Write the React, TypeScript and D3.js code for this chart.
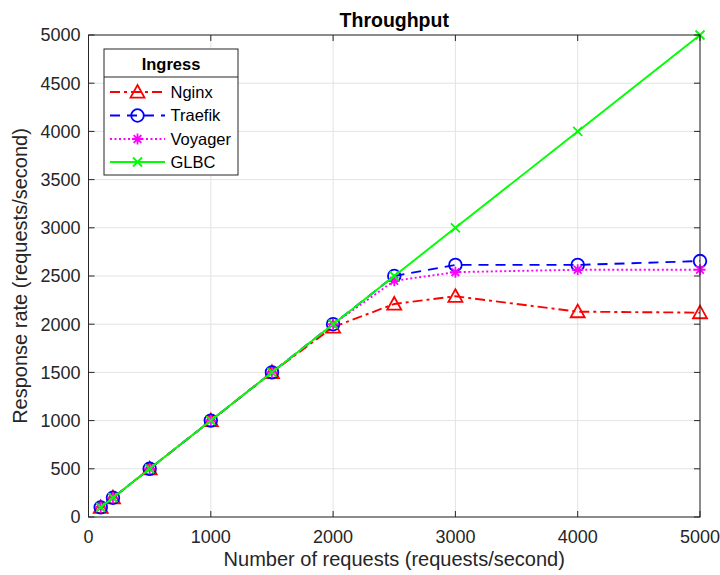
import React from "react";
import * as d3 from "d3";

const xValues = [100, 200, 500, 1000, 1500, 2000, 2500, 3000, 4000, 5000];
const nginx = [100, 200, 500, 1000, 1500, 1970, 2210, 2290, 2130, 2120];
const traefik = [100, 200, 500, 1000, 1500, 2000, 2500, 2615, 2615, 2655];
const voyager = [100, 200, 500, 1000, 1500, 2000, 2450, 2540, 2565, 2565];
const glbc = [100, 200, 500, 1000, 1500, 2000, 2500, 3000, 4000, 5000];
const xTicks = [0, 1000, 2000, 3000, 4000, 5000];
const yTicks = [0, 500, 1000, 1500, 2000, 2500, 3000, 3500, 4000, 4500, 5000];

const seriesNames = ["Nginx", "Traefik", "Voyager", "GLBC"];

const W = 720, H = 575;
const L = 88.5, R = 700, T = 35, B = 517;
const font = "'Liberation Sans', Arial, sans-serif";
const axisColor = "#262626";

type Ser = { name: string; vals: number[]; color: string; dash: string; marker: string };
const series: Ser[] = [
  { name: seriesNames[0], vals: nginx, color: "#ff0000", dash: "10 4 3 4", marker: "tri" },
  { name: seriesNames[1], vals: traefik, color: "#0000ff", dash: "10 7", marker: "circ" },
  { name: seriesNames[2], vals: voyager, color: "#ff00ff", dash: "2 2.5", marker: "star" },
  { name: seriesNames[3], vals: glbc, color: "#00ff00", dash: "", marker: "x" },
];

function Marker({ kind, x, y, color }: { kind: string; x: number; y: number; color: string }) {
  const sw = 1.8;
  if (kind === "tri") {
    const s = 7;
    return <path d={`M${x},${y - s} L${x + s},${y + s * 0.8} L${x - s},${y + s * 0.8} Z`} fill="none" stroke={color} strokeWidth={sw} />;
  }
  if (kind === "circ") return <circle cx={x} cy={y} r={6.3} fill="none" stroke={color} strokeWidth={sw} />;
  if (kind === "star") {
    const s = 5.5;
    const d = s * 0.7;
    return (
      <path d={`M${x - s},${y} L${x + s},${y} M${x},${y - s} L${x},${y + s} M${x - d},${y - d} L${x + d},${y + d} M${x - d},${y + d} L${x + d},${y - d}`} stroke={color} strokeWidth={sw} />
    );
  }
  const s = 4.5;
  return <path d={`M${x - s},${y - s} L${x + s},${y + s} M${x - s},${y + s} L${x + s},${y - s}`} stroke={color} strokeWidth={sw} />;
}

export default function App() {
  const x = d3.scaleLinear().domain([0, 5000]).range([L, R]);
  const y = d3.scaleLinear().domain([0, 5000]).range([B, T]);
  const line = d3.line<number>().x((_, i) => x(xValues[i])).y((v) => y(v));
  const tl = 6;

  const legX = 104, legY = 49, legW = 134, legH = 126;
  const rowY = [92, 115.5, 139, 162];

  return (
    <svg width={W} height={H} style={{ position: "absolute", left: 0, top: 0 }} fontFamily={font}>
      <rect x={0} y={0} width={W} height={H} fill="#fff" />
      <rect x={L} y={T} width={R - L} height={B - T} fill="#fff" />
      {/* grid */}
      {xTicks.map((t) => (
        <line key={"gx" + t} x1={x(t)} x2={x(t)} y1={T} y2={B} stroke="#e3e3e3" strokeWidth={1} />
      ))}
      {yTicks.map((t) => (
        <line key={"gy" + t} x1={L} x2={R} y1={y(t)} y2={y(t)} stroke="#e3e3e3" strokeWidth={1} />
      ))}
      {/* series */}
      {series.map((s) => (
        <g key={s.name}>
          <path d={line(s.vals) || ""} fill="none" stroke={s.color} strokeWidth={1.9} strokeDasharray={s.dash || undefined} />
          {s.vals.map((v, i) => (
            <Marker key={i} kind={s.marker} x={x(xValues[i])} y={y(v)} color={s.color} />
          ))}
        </g>
      ))}
      {/* axes box */}
      <rect x={L} y={T} width={R - L} height={B - T} fill="none" stroke={axisColor} strokeWidth={1} />
      {xTicks.map((t) => (
        <g key={"xt" + t}>
          <line x1={x(t)} x2={x(t)} y1={B} y2={B - tl} stroke={axisColor} />
          <line x1={x(t)} x2={x(t)} y1={T} y2={T + tl} stroke={axisColor} />
          <text x={x(t)} y={543} textAnchor="middle" fontSize={18} fill={axisColor}>{t}</text>
        </g>
      ))}
      {yTicks.map((t) => (
        <g key={"yt" + t}>
          <line x1={L} x2={L + tl} y1={y(t)} y2={y(t)} stroke={axisColor} />
          <line x1={R} x2={R - tl} y1={y(t)} y2={y(t)} stroke={axisColor} />
          <text x={L - 8} y={y(t)} dy="0.35em" textAnchor="end" fontSize={18} fill={axisColor}>{t}</text>
        </g>
      ))}
      <text x={(L + R) / 2} y={26.5} textAnchor="middle" fontSize={19.5} fontWeight="bold" fill="#000">Throughput</text>
      <text x={(L + R) / 2} y={566} textAnchor="middle" fontSize={20} fill={axisColor}>Number of requests (requests/second)</text>
      <text transform={`translate(27,${(T + B) / 2}) rotate(-90)`} textAnchor="middle" fontSize={20} fill={axisColor}>Response rate (requests/second)</text>
      {/* legend */}
      <rect x={legX} y={legY} width={legW} height={legH} fill="#fff" stroke={axisColor} strokeWidth={1} />
      <line x1={legX} x2={legX + legW} y1={77} y2={77} stroke={axisColor} strokeWidth={1} />
      <text x={legX + legW / 2} y={69.5} textAnchor="middle" fontSize={16.5} fontWeight="bold" fill="#000">Ingress</text>
      {series.map((s, i) => (
        <g key={"lg" + s.name}>
          <line x1={110} x2={165} y1={rowY[i]} y2={rowY[i]} stroke={s.color} strokeWidth={1.9} strokeDasharray={s.dash || undefined} />
          <Marker kind={s.marker} x={137.5} y={rowY[i]} color={s.color} />
          <text x={170.5} y={rowY[i]} dy="0.35em" fontSize={16.5} fill="#000">{s.name}</text>
        </g>
      ))}
    </svg>
  );
}
